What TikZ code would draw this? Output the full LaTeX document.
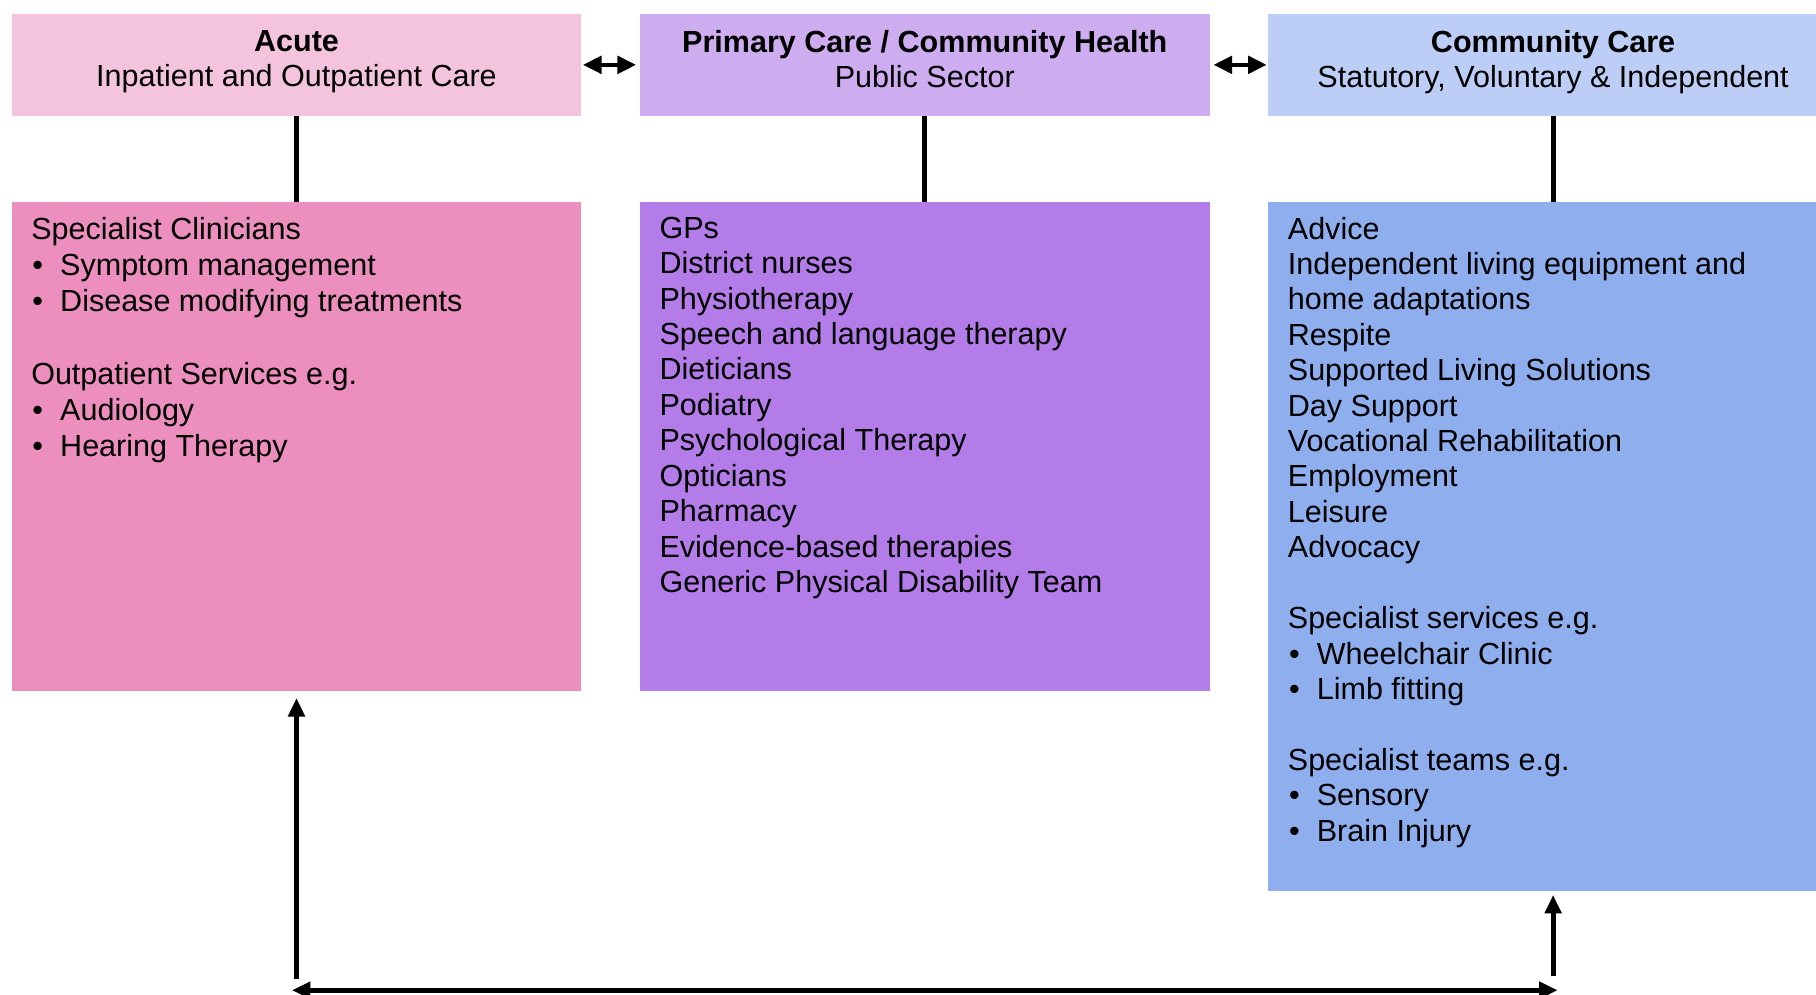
\documentclass[tikz,border=0pt]{standalone}
\usepackage{fontspec}
\setmainfont{Liberation Sans}
\usetikzlibrary{arrows.meta,positioning}

\definecolor{acuteHead}{RGB}{244,196,222}
\definecolor{acuteFill}{RGB}{236,142,190}
\definecolor{primHead}{RGB}{206,172,240}
\definecolor{primFill}{RGB}{180,124,232}
\definecolor{commHead}{RGB}{188,206,246}
\definecolor{commFill}{RGB}{142,174,238}

\newcommand{\bodyfont}{\fontsize{15}{17.4}\selectfont}
\newcommand{\bul}[1]{\hspace*{0.02cm}\makebox[0.48cm][l]{\textbullet}#1}

\tikzset{
  hdr/.style={minimum width=9.84cm, minimum height=1.76cm, inner sep=0pt, align=center, font=\bodyfont,
    execute at end node={\rule[-6pt]{0pt}{6pt}}},
  panel/.style={minimum width=9.84cm, anchor=north, inner sep=0pt},
  listtext/.style={anchor=north west, align=left, inner sep=0pt, font=\bodyfont},
  link/.style={line width=2.4pt},
  sidearrow/.style={line width=2pt, {Triangle[width=0.3cm,length=0.32cm]}-{Triangle[width=0.3cm,length=0.32cm]}},
  flowarrow/.style={line width=2.5pt, -{Triangle[width=0.28cm,length=0.32cm]}}
}

\begin{document}
\begin{tikzpicture}
\useasboundingbox (0,0) rectangle (31.36,17.18);

% three sector headings
\node[hdr, fill=acuteHead] (acuteHd) at (5.12,16.06) {\textbf{Acute}\\Inpatient and Outpatient Care};
\node[hdr, fill=primHead] (primHd) at (15.97,16.06) {\textbf{Primary Care / Community Health}\\Public Sector};
\node[hdr, fill=commHead] (commHd) at (26.82,16.06) {\textbf{Community Care}\\Statutory, Voluntary \& Independent};

% service panels
\node[panel, fill=acuteFill, minimum height=8.44cm] (acuteBody) at (5.12,13.70) {};
\node[panel, fill=primFill, minimum height=8.44cm] (primBody) at (15.97,13.70) {};
\node[panel, fill=commFill, minimum height=11.9cm] (commBody) at (26.82,13.70) {};

\node[listtext, font=\fontsize{15}{17.8}\selectfont] (acuteList) at ([xshift=0.34cm,yshift=-0.26cm]acuteBody.north west) {%
Specialist Clinicians\\
\bul{Symptom management}\\
\bul{Disease modifying treatments}\\[17.8pt]
Outpatient Services e.g.\\
\bul{Audiology}\\
\bul{Hearing Therapy}};

\node[listtext] (primList) at ([xshift=0.34cm,yshift=-0.26cm]primBody.north west) {%
GPs\\
District nurses\\
Physiotherapy\\
Speech and language therapy\\
Dieticians\\
Podiatry\\
Psychological Therapy\\
Opticians\\
Pharmacy\\
Evidence-based therapies\\
Generic Physical Disability Team};

\node[listtext] (commList) at ([xshift=0.34cm,yshift=-0.26cm]commBody.north west) {%
Advice\\
Independent living equipment and\\
home adaptations\\
Respite\\
Supported Living Solutions\\
Day Support\\
Vocational Rehabilitation\\
Employment\\
Leisure\\
Advocacy\\[17.4pt]
Specialist services e.g.\\
\bul{Wheelchair Clinic}\\
\bul{Limb fitting}\\[17.4pt]
Specialist teams e.g.\\
\bul{Sensory}\\
\bul{Brain Injury}};

% heading to panel links
\draw[link] (acuteHd) -- (acuteBody);
\draw[link] (primHd) -- (primBody);
\draw[link] (commHd) -- (commBody);

% between headings
\draw[sidearrow, shorten <=0.02cm, shorten >=0.06cm] (acuteHd) -- (primHd);
\draw[sidearrow, shorten <=0.06cm, shorten >=0.02cm] (primHd) -- (commHd);

% loop along the bottom
\coordinate (acuteFoot) at (5.12,0.28);
\coordinate (commFoot) at (26.82,0.32);
\coordinate (baseL) at (5.04,0.08);
\coordinate (baseR) at (26.90,0.08);
\draw[flowarrow, shorten >=0.12cm] (acuteFoot) -- (acuteBody.south);
\draw[flowarrow, shorten >=0.06cm] (commFoot) -- (commBody.south);
\draw[flowarrow, {Triangle[width=0.28cm,length=0.32cm]}-{Triangle[width=0.28cm,length=0.32cm]}] (baseL) -- (baseR);
\end{tikzpicture}
\end{document}
